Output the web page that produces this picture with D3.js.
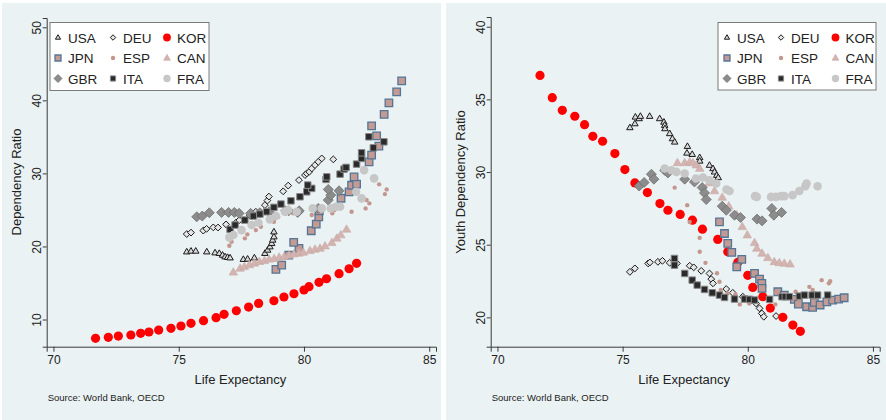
<!DOCTYPE html>
<html>
<head>
<meta charset="utf-8">
<script src="https://cdn.jsdelivr.net/npm/d3@7"></script>
<style>
  html, body { margin: 0; padding: 0; background: #ffffff; }
  svg { display: block; }
  text { font-family: "Liberation Sans", Arial, Helvetica, sans-serif; fill: #222; }
</style>
</head>
<body>
<svg id="chart" width="886" height="420"></svg>
<script>
// ---- Data: [life expectancy, ratio] per country ----
// Old-age dependency ratio (left panel)
const depUSA = [[75.32,19.27],[75.49,19.37],[75.68,19.37],[76.12,19.27],[76.45,19.14],[76.62,19.06],[76.75,18.82],[76.85,18.59],[76.95,18.51],[77.05,18.45],[77.58,18.24],[77.75,18.28],[78.02,18.45],[78.44,19.06],[78.55,19.51],[78.64,19.96],[78.71,20.42],[78.75,20.88],[78.80,21.33],[78.80,22.01]];
const depDEU = [[75.32,21.70],[75.49,21.90],[75.98,22.17],[76.11,22.41],[76.38,22.61],[76.57,22.59],[76.89,23.02],[77.29,23.27],[77.42,23.61],[77.84,24.25],[78.08,24.75],[78.44,25.66],[78.54,26.28],[78.60,26.83],[79.17,27.55],[79.37,28.33],[79.80,29.08],[80.04,29.77],[80.11,30.00],[80.21,30.22],[80.31,30.68],[80.44,31.14],[80.57,31.59],[80.71,32.05],[81.17,31.92]];
const depKOR = [[71.68,7.43],[72.19,7.56],[72.59,7.74],[73.09,7.88],[73.48,8.11],[73.81,8.29],[74.20,8.56],[74.69,8.79],[75.09,9.11],[75.49,9.48],[75.99,9.84],[76.49,10.25],[76.81,10.71],[77.30,11.20],[77.79,11.71],[78.19,12.21],[78.80,12.57],[79.20,13.08],[79.60,13.53],[80.00,14.04],[80.20,14.49],[80.60,15.09],[80.90,15.58],[81.40,16.27],[81.80,16.95],[82.10,17.69]];
const depJPN = [[78.88,16.85],[79.11,17.45],[79.39,18.82],[79.80,19.74],[79.59,20.56],[80.29,22.15],[80.49,23.06],[80.59,24.06],[80.61,24.88],[81.48,26.60],[81.80,27.46],[81.90,28.38],[82.10,28.54],[82.00,29.53],[82.60,31.59],[82.70,32.50],[82.99,33.73],[82.90,35.14],[82.70,36.51],[83.20,38.07],[83.39,39.66],[83.70,41.16],[83.90,42.67]];
const depESP = [[77.02,20.10],[77.11,20.64],[77.64,21.11],[77.74,21.66],[78.08,22.24],[78.28,22.69],[78.80,23.38],[78.97,24.06],[79.57,24.53],[80.31,24.30],[81.13,24.53],[81.21,24.98],[81.44,25.53],[81.90,24.75],[82.46,25.21],[82.50,26.35],[82.61,25.90],[83.00,28.50],[83.23,27.17],[83.30,27.81]];
const depCAN = [[77.18,16.46],[77.45,17.00],[77.62,17.22],[77.82,17.46],[78.02,17.69],[78.22,17.91],[78.42,18.04],[78.61,18.24],[78.81,18.32],[79.01,18.51],[79.21,18.59],[79.41,18.78],[79.60,18.96],[79.80,19.06],[79.97,19.19],[80.24,19.41],[80.44,19.60],[80.64,19.74],[80.84,20.05],[81.11,20.51],[81.31,21.11],[81.47,21.56],[81.70,22.34]];
const depGBR = [[75.72,24.06],[75.94,24.16],[76.22,24.61],[76.71,24.66],[76.99,24.66],[77.22,24.66],[77.41,24.53],[77.87,24.53],[78.24,24.61],[78.61,24.75],[79.27,24.88],[79.39,24.88],[79.75,24.66],[79.81,24.88],[80.57,25.21],[80.97,26.35],[81.07,27.03],[80.97,27.81],[81.40,27.62]];
const depITA = [[77.05,22.34],[77.25,22.93],[77.64,23.61],[77.98,24.16],[78.24,24.43],[78.51,24.75],[78.80,25.35],[79.08,25.80],[79.48,26.25],[79.84,26.80],[80.11,27.48],[80.31,27.95],[80.15,28.40],[80.88,29.18],[80.91,29.53],[81.44,29.90],[81.60,30.59],[81.68,30.82],[82.10,31.27],[82.30,32.05],[82.30,32.82],[82.77,33.50],[82.59,35.01],[83.19,34.32]];
const depFRA = [[77.02,21.24],[77.18,21.56],[77.51,22.24],[77.91,22.93],[78.18,23.24],[78.64,23.71],[78.88,24.16],[79.24,24.75],[79.37,24.98],[79.71,24.75],[80.35,25.21],[80.71,25.21],[81.07,25.21],[81.28,25.43],[81.44,25.43],[82.08,27.48],[82.30,26.58],[82.40,30.45],[82.80,29.32]];

// Youth dependency ratio (right panel)
const youthUSA = [[75.29,33.06],[75.49,33.33],[75.51,33.79],[75.66,33.68],[75.71,33.84],[76.08,33.84],[76.48,33.68],[76.65,33.44],[76.68,33.22],[76.69,32.99],[76.88,32.65],[76.99,32.30],[77.08,32.07],[77.59,31.77],[77.57,31.31],[77.78,31.22],[78.08,31.00],[78.08,30.76],[78.47,30.47],[78.61,30.24],[78.67,30.01],[78.76,29.78],[78.82,29.62]];
const youthDEU = [[75.29,23.13],[75.49,23.37],[76.02,23.71],[76.09,23.78],[76.41,23.82],[76.59,23.89],[76.88,23.75],[77.17,23.71],[77.68,23.55],[77.84,23.44],[78.14,23.20],[78.47,23.02],[78.54,22.63],[78.61,22.34],[79.14,21.95],[79.40,21.69],[79.80,21.42],[80.14,21.19],[80.33,20.96],[80.47,20.62],[80.56,20.27],[80.64,20.04],[81.13,20.09]];
const youthKOR = [[71.70,36.65],[72.19,35.12],[72.59,34.25],[73.09,33.84],[73.48,33.26],[73.81,32.46],[74.20,32.12],[74.69,31.27],[75.09,30.17],[75.49,29.25],[75.99,28.59],[76.49,27.83],[76.81,27.37],[77.30,27.08],[77.79,26.69],[78.19,26.07],[78.80,25.36],[79.20,24.51],[79.60,23.78],[80.00,22.89],[80.20,22.06],[80.60,21.42],[80.90,20.64],[81.40,20.00],[81.80,19.47],[82.10,19.04]];
const youthJPN = [[78.87,26.57],[79.07,25.77],[79.20,25.09],[79.36,24.47],[79.76,23.99],[79.56,23.48],[80.27,23.02],[80.47,22.63],[80.56,22.34],[80.57,21.99],[81.20,21.76],[81.46,21.53],[81.86,21.24],[82.02,20.91],[82.35,20.73],[82.59,20.69],[82.66,21.03],[82.89,20.85],[83.16,21.07],[83.39,21.19],[83.63,21.26],[83.85,21.35]];
const youthESP = [[77.08,28.93],[77.58,27.72],[77.68,26.57],[78.08,25.47],[78.08,24.51],[78.31,23.75],[78.77,23.04],[78.87,22.45],[78.92,21.88],[79.20,21.65],[79.51,21.58],[79.68,20.89],[80.06,20.96],[81.10,20.89],[81.13,21.69],[81.51,21.31],[81.91,21.76],[82.06,21.19],[82.46,22.10],[82.59,21.88],[82.95,22.56],[83.24,22.34],[83.29,22.49]];
const youthCAN = [[77.19,30.63],[77.48,30.63],[77.68,30.69],[77.81,30.63],[77.94,30.47],[78.08,30.24],[78.46,29.25],[78.67,28.70],[78.98,28.25],[79.24,27.65],[79.56,27.03],[79.78,26.23],[79.98,25.66],[80.27,25.13],[80.36,24.74],[80.57,24.40],[80.80,24.10],[81.06,23.82],[81.26,23.75],[81.46,23.71],[81.69,23.66]];
const youthGBR = [[75.66,29.04],[75.86,29.28],[76.15,29.85],[76.25,29.51],[76.68,30.12],[76.81,29.94],[77.48,29.51],[77.87,29.32],[78.18,28.93],[78.27,28.56],[78.34,28.11],[78.98,27.65],[79.14,27.37],[79.47,27.03],[79.71,26.87],[80.37,26.76],[80.57,26.64],[80.96,27.49],[81.04,27.03],[81.35,27.22]];
const youthITA = [[77.07,24.05],[77.07,23.59],[77.48,23.02],[77.78,22.56],[77.98,22.22],[78.27,21.92],[78.58,21.69],[78.87,21.53],[79.07,21.37],[79.47,21.26],[79.87,21.26],[80.07,21.24],[80.27,21.19],[80.87,21.24],[81.37,21.42],[81.50,21.42],[81.66,21.42],[82.06,21.46],[82.26,21.53],[82.57,21.53],[82.79,21.53],[83.19,21.53]];
const youthFRA = [[76.68,30.24],[76.95,30.12],[77.15,30.01],[77.48,29.90],[77.93,29.55],[78.21,29.62],[78.47,29.44],[78.74,29.21],[79.15,28.80],[79.27,28.70],[80.29,28.34],[80.36,28.29],[80.93,28.29],[81.13,28.29],[81.33,28.34],[81.46,28.34],[81.79,28.41],[82.06,28.70],[82.30,29.02],[82.35,29.21],[82.79,29.02]];

// Legend order (row-major, three columns) and axis ticks
const countries = ["USA", "DEU", "KOR", "JPN", "ESP", "CAN", "GBR", "ITA", "FRA"];
const xTicks = [70, 75, 80, 85];
const depTicks = [10, 20, 30, 40, 50];
const youthTicks = [20, 25, 30, 35, 40];

const depSeries = { USA: depUSA, DEU: depDEU, KOR: depKOR, JPN: depJPN, ESP: depESP, CAN: depCAN, GBR: depGBR, ITA: depITA, FRA: depFRA };
const youthSeries = { USA: youthUSA, DEU: youthDEU, KOR: youthKOR, JPN: youthJPN, ESP: youthESP, CAN: youthCAN, GBR: youthGBR, ITA: youthITA, FRA: youthFRA };

// ---- Marker styles ----
const markers = {
  USA: { shape: "triangle", size: 6.5, fill: "#d9d9d9", stroke: "#1a1a1a", sw: 1 },
  DEU: { shape: "diamond",  size: 3.4, fill: "#e6e6e6", stroke: "#1a1a1a", sw: 1 },
  KOR: { shape: "circle",   size: 4.6, fill: "#ff0000", stroke: "#ff0000", sw: 0 },
  JPN: { shape: "square",   size: 7.5, fill: "#c49a94", stroke: "#557595", sw: 1.3 },
  ESP: { shape: "circle",   size: 2.2, fill: "#c4978e", stroke: "none", sw: 0 },
  CAN: { shape: "triangle", size: 8.5, fill: "#d3b4b0", stroke: "#c8a8a4", sw: 0.6 },
  GBR: { shape: "diamond",  size: 5, fill: "#8c8c8c", stroke: "#6e6e6e", sw: 0.8 },
  ITA: { shape: "square",   size: 6.5, fill: "#2a2a2a", stroke: "#8a8a8a", sw: 1 },
  FRA: { shape: "circle",   size: 4.3, fill: "#c7c7c7", stroke: "none", sw: 0 }
};

// size = side length for square/triangle, half-diagonal for diamond, radius for circle
function markerPath(shape, s) {
  if (shape === "circle") return d3.symbol(d3.symbolCircle, Math.PI * s * s)();
  if (shape === "square") return d3.symbol(d3.symbolSquare, s * s)();
  if (shape === "triangle") {
    const h = s * Math.sqrt(3) / 2;
    return `M0,${-h * 0.62}L${s / 2},${h * 0.38}L${-s / 2},${h * 0.38}Z`;
  }
  if (shape === "diamond") return `M0,${-s}L${s},0L0,${s}L${-s},0Z`;
}

const svg = d3.select("#chart");
const bg = "#eaf2f3";

function drawPanel(cfg) {
  const g = svg.append("g");
  g.append("rect").attr("x", cfg.bx).attr("y", 3).attr("width", cfg.bw).attr("height", 417).attr("fill", bg);

  const x = d3.scaleLinear().domain([69.73, 85.27]).range([cfg.left, cfg.right]);
  const y = d3.scaleLinear().domain(cfg.yDomain).range([cfg.bottom, cfg.top]);

  // Axes
  const xa = g.append("g").attr("transform", `translate(0,${cfg.bottom})`)
    .call(d3.axisBottom(x).tickValues(xTicks).tickSize(5).tickPadding(4).tickFormat(d3.format("d")));
  const ya = g.append("g").attr("transform", `translate(${cfg.left},0)`)
    .call(d3.axisLeft(y).tickValues(cfg.ticks).tickSize(4).tickPadding(4).tickFormat(d3.format("d")));
  [xa, ya].forEach(a => {
    a.selectAll("path.domain").attr("stroke", "#3a3a3a").attr("stroke-width", 1);
    a.selectAll(".tick line").attr("stroke", "#3a3a3a");
    a.selectAll(".tick text").attr("font-size", 12).attr("fill", "#222")
      .style("font-family", '"Liberation Sans", Arial, sans-serif');
  });
  // vertical y tick labels
  ya.selectAll(".tick text")
    .attr("text-anchor", "middle")
    .attr("transform", "translate(-10,0) rotate(-90)")
    .attr("dy", "0.35em").attr("y", 0).attr("x", 0);
  xa.selectAll(".tick text").attr("dy", "0.71em");

  // Points
  countries.forEach(c => {
    const m = markers[c];
    const p = markerPath(m.shape, m.size);
    g.append("g").selectAll("path").data(cfg.series[c]).join("path")
      .attr("d", p)
      .attr("transform", d => `translate(${x(d[0])},${y(d[1])})`)
      .attr("fill", m.fill).attr("stroke", m.stroke).attr("stroke-width", m.sw);
  });

  // Axis titles and note
  g.append("text").attr("x", (cfg.left + cfg.right) / 2 - 1).attr("y", 384)
    .attr("text-anchor", "middle").attr("font-size", 13).text("Life Expectancy");
  g.append("text").attr("transform", `translate(${cfg.ytitleX},182) rotate(-90)`)
    .attr("text-anchor", "middle").attr("font-size", 13).text(cfg.ytitle);
  g.append("text").attr("x", cfg.left + 1).attr("y", 401).attr("font-size", 9.5).text("Source: World Bank, OECD");

  // Legend
  const L = cfg.legend;
  g.append("rect").attr("x", L.x).attr("y", L.y).attr("width", L.w).attr("height", L.h)
    .attr("fill", "#ffffff").attr("stroke", "#7a7a7a").attr("stroke-width", 1);
  countries.forEach((c, i) => {
    const col = i % 3, row = Math.floor(i / 3);
    const sx = L.x + L.colX[col], sy = L.y + 15 + row * 20.5;
    const m = markers[c];
    g.append("path").attr("d", markerPath(m.shape, m.shape === "circle" ? Math.max(m.size * 0.85, 2.2) : m.size * 0.8))
      .attr("transform", `translate(${sx},${sy})`)
      .attr("fill", m.fill).attr("stroke", m.stroke).attr("stroke-width", m.sw);
    g.append("text").attr("x", sx + 10).attr("y", sy + 5).attr("font-size", 13.5).text(c);
  });
}

drawPanel({
  bx: 2, bw: 439, left: 46.7, right: 436, top: 18, bottom: 346.7,
  yDomain: [6.28, 51.27], ticks: depTicks, series: depSeries,
  ytitle: "Dependency Ratio", ytitleX: 21,
  legend: { x: 50, y: 22.5, w: 159, h: 68, colX: [8, 63, 117] }
});
drawPanel({
  bx: 446, bw: 440, left: 490.7, right: 879.7, top: 17, bottom: 346.7,
  yDomain: [17.98, 40.67], ticks: youthTicks, series: youthSeries,
  ytitle: "Youth Dependency Ratio", ytitleX: 465,
  legend: { x: 718, y: 22.5, w: 158, h: 67.5, colX: [9, 63, 117.5] }
});
</script>
</body>
</html>
